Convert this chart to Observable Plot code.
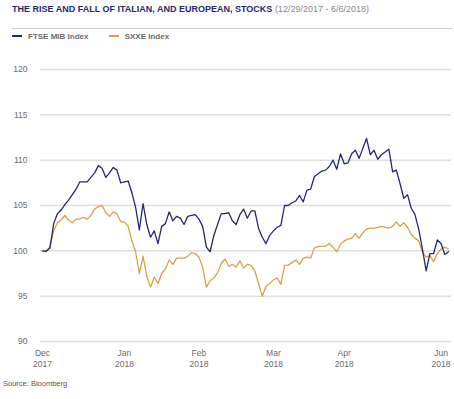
<!DOCTYPE html>
<html>
<head>
<meta charset="utf-8">
<script src="https://cdn.jsdelivr.net/npm/d3@7"></script>
<script src="https://cdn.jsdelivr.net/npm/@observablehq/plot@0.6"></script>
<style>
  html, body { margin: 0; padding: 0; background: #fff; }
  #wrap { position: relative; width: 454px; height: 399px; font-family: "Liberation Sans", Arial, sans-serif; }
  #title { position: absolute; left: 12px; top: 4px; font-size: 9px; white-space: nowrap; }
  #title b { color: #23296e; }
  #title span { color: #8a8a8a; }
  #sep { position: absolute; left: 12px; top: 28px; width: 440px; height: 1px; background: #cfcfcf; }
  #legend { position: absolute; left: 12px; top: 32px; font-size: 8px; font-weight: bold; color: #6b6b6b; white-space: nowrap; }
  .sw { display: inline-block; width: 10px; height: 1.5px; vertical-align: middle; margin-right: 6px; position: relative; top: -1px; }
  .item { display: inline-block; margin-right: 18px; }
  #chart { position: absolute; left: 0; top: 50px; }
  #source { position: absolute; left: 3px; top: 379px; font-size: 7.5px; color: #555; }
</style>
</head>
<body>
<div id="wrap">
  <div id="title"><b>THE RISE AND FALL OF ITALIAN, AND EUROPEAN, STOCKS</b> <span>(12/29/2017 - 6/6/2018)</span></div>
  <div id="sep"></div>
  <div id="legend">
    <span class="item"><span class="sw" style="background:#23296e"></span>FTSE MIB Index</span>
    <span class="item"><span class="sw" style="background:#d6a245"></span>SXXE Index</span>
  </div>
  <div id="chart"></div>
  <div id="source">Source: Bloomberg</div>
</div>
<script>
const seriesNames = ["FTSE MIB Index", "SXXE Index"];
const seriesColors = ["#23296e", "#d6a245"];
const yTicks = [90, 95, 100, 105, 110, 115, 120];
const xTickIndex = [0, 22, 42, 62, 81, 107];
const xTickLabels = ["Dec\n2017", "Jan\n2018", "Feb\n2018", "Mar\n2018", "Apr\n2018", "Jun\n2018"];

const ftse = [
  100.0, 99.95, 100.3, 103.0, 104.1, 104.5, 105.1, 105.6, 106.2, 106.8,
  107.6, 107.6, 107.6, 108.1, 108.6, 109.4, 109.1, 108.1, 108.6, 109.2,
  108.9, 107.5, 107.6, 107.7, 106.4, 104.8, 102.3, 105.2, 102.9, 101.5,
  102.2, 100.8, 102.7, 103.0, 104.3, 103.3, 103.8, 103.6, 102.9, 103.8,
  103.9, 104.0, 103.5, 102.7, 100.4, 99.9, 101.7, 102.9, 104.1, 104.1,
  104.2, 103.3, 102.9, 104.0, 104.6, 103.6, 104.4, 104.4, 102.5, 101.5,
  100.8, 101.7, 102.2, 102.6, 102.8, 105.0, 105.0, 105.3, 105.5, 106.1,
  105.4, 106.7, 106.8, 108.2, 108.5, 108.8, 108.9, 109.3, 110.0, 109.0,
  110.7, 109.6, 109.7, 110.7, 111.1, 110.2, 111.3, 112.4, 110.6, 111.1,
  110.1, 110.6, 110.9, 111.2, 108.7, 108.9, 107.4, 105.8, 106.2, 104.7,
  104.0, 102.4, 100.2, 97.8, 99.7, 99.7, 101.2, 100.8, 99.6, 99.9
];

const sxxe = [
  100.0, 99.9, 100.5, 102.2, 103.1, 103.4, 103.9, 103.4, 103.1, 103.5,
  103.5, 103.7, 103.5, 103.9, 104.6, 104.9, 105.0, 104.2, 103.8, 104.3,
  104.1, 103.2, 103.2, 102.7, 101.1, 99.9, 97.5, 99.4, 97.2, 96.0,
  97.1, 96.4, 97.5, 98.0, 99.0, 98.5, 99.2, 99.2, 99.2, 99.4,
  99.8, 99.7, 99.3, 98.2, 96.0, 96.7, 97.0, 97.6, 98.6, 99.1,
  98.3, 98.5, 98.2, 98.9, 98.1, 98.5, 98.4, 97.8, 96.4, 95.0,
  96.1, 96.4, 96.8, 97.0, 96.3, 98.4, 98.4, 98.7, 99.0, 98.5,
  99.2, 99.3, 99.2, 100.3, 100.5, 100.5, 100.5, 100.8, 100.4, 99.9,
  100.7, 101.1, 101.3, 101.4, 101.9, 101.4, 102.0, 102.4, 102.5, 102.5,
  102.6, 102.7, 102.6, 102.5, 102.7, 103.2, 102.7, 103.1, 102.6, 101.8,
  101.4, 101.1, 99.9, 99.3, 99.5, 98.8, 99.7, 100.2, 100.4, 100.2
];

const rows = [
  ...sxxe.map((v, i) => ({i, v, s: seriesNames[1]})),
  ...ftse.map((v, i) => ({i, v, s: seriesNames[0]}))
];

const chart = Plot.plot({
  width: 454,
  height: 321,
  marginTop: 19,
  marginBottom: 30,
  marginLeft: 42,
  marginRight: 6,
  style: {fontFamily: '"Liberation Sans", Arial, sans-serif', fontSize: "8.5px", color: "#6b6b6b", background: "#fff"},
  x: {domain: [0, ftse.length - 1], label: null},
  y: {domain: [90, 120], label: null},
  color: {domain: seriesNames, range: seriesColors},
  marks: [
    Plot.ruleY(yTicks, {stroke: "#dedede", strokeWidth: 1.5, insetLeft: -2, insetRight: -3}),
    Plot.lineY(rows, {x: "i", y: "v", z: "s", stroke: "s", strokeWidth: 1.3}),
    Plot.axisY({ticks: yTicks, tickSize: 0, tickPadding: 15, label: null, tickFormat: d => String(d)}),
    Plot.axisX({ticks: xTickIndex, tickSize: 0, tickPadding: 7, lineHeight: 1.26, label: null,
      tickFormat: d => xTickLabels[xTickIndex.indexOf(d)]})
  ]
});
document.getElementById("chart").appendChild(chart);
</script>
</body>
</html>
